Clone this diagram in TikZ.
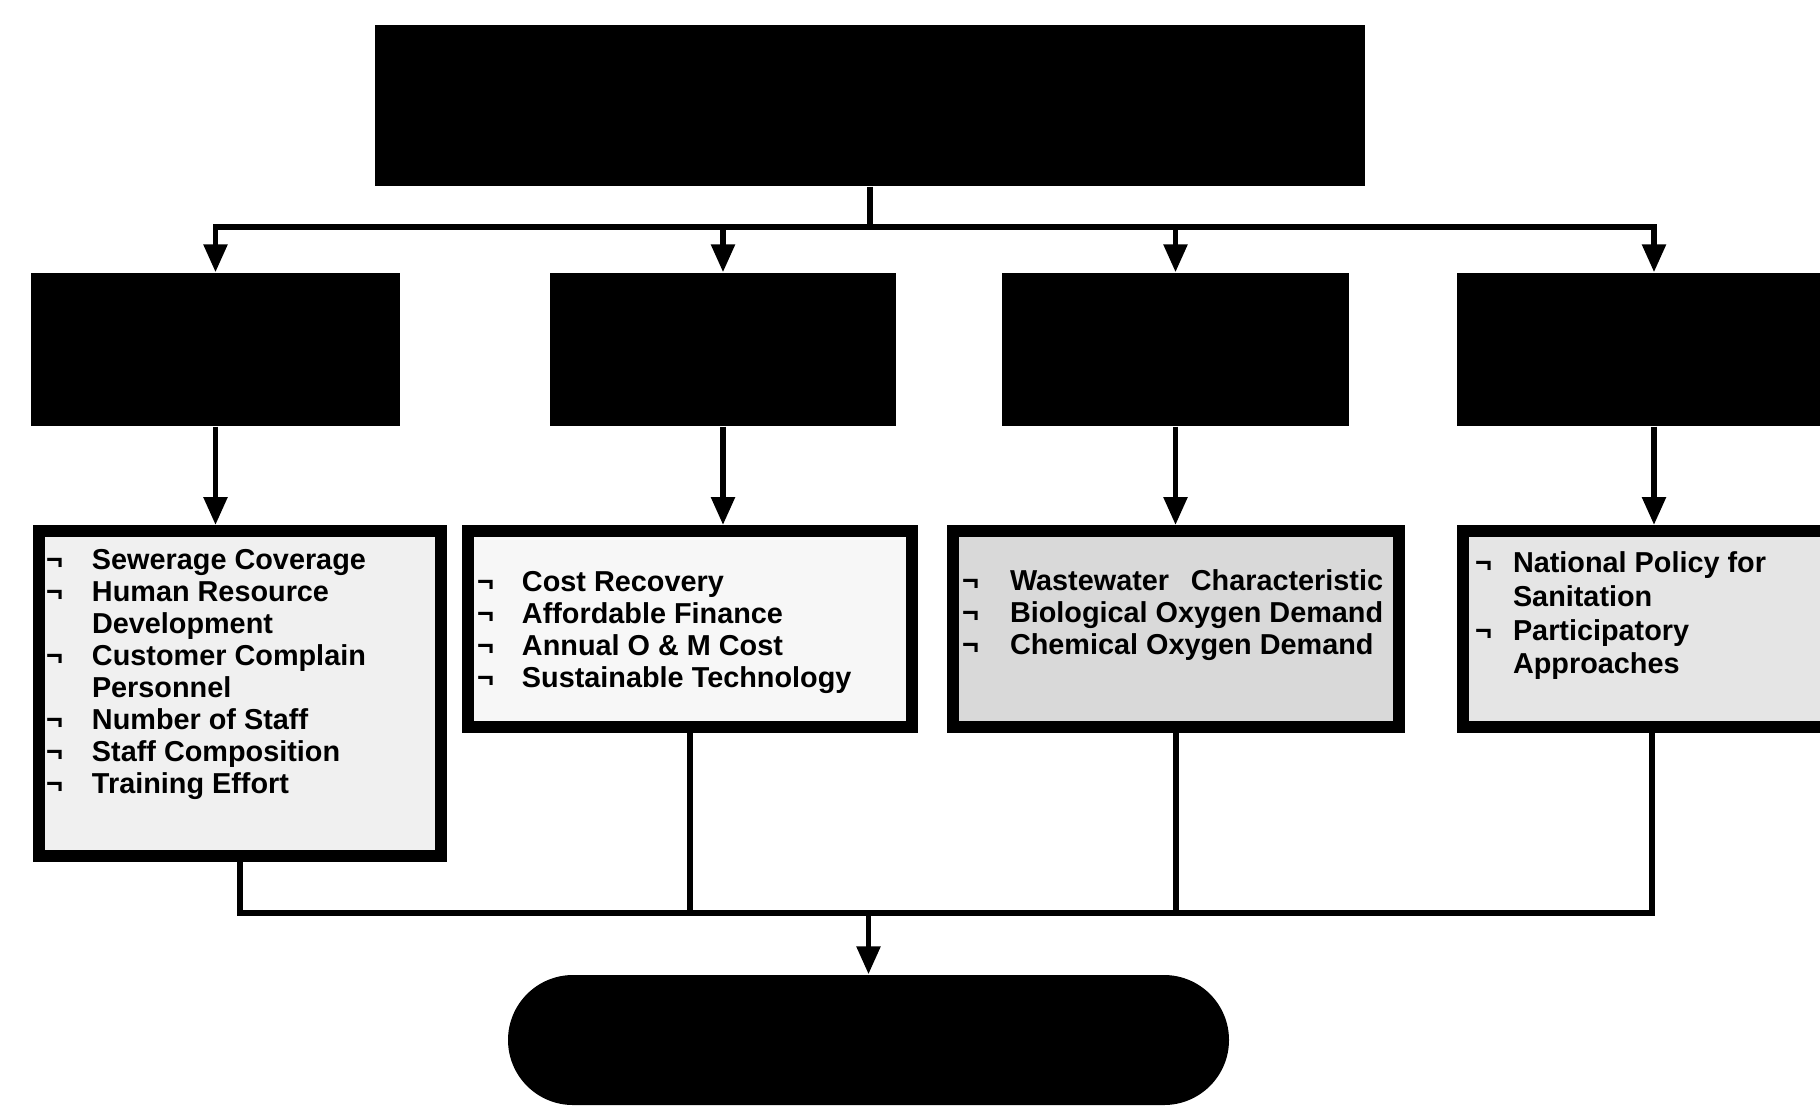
\documentclass[tikz,border=0pt]{standalone}
\usepackage{fontspec}
\setsansfont{Liberation Sans}
\usepackage{calc}
\usetikzlibrary{arrows.meta}

\newlength{\markwidth}
\newcommand{\negitem}{\makebox[\markwidth][l]{¬}}
\newcommand{\contitem}{\hspace*{\markwidth}}
% width, height, left pad, top pad, lines
\newcommand{\listpanel}[5]{\parbox[c][#2][t]{#1}{\vspace*{#4}\leftskip=#3\relax\strut#5}}

\begin{document}
\begin{tikzpicture}[
        x=0.1mm, y=-0.1mm,
        % black heading boxes
        darkbox/.style={
            rectangle,
            fill=black,
            draw=none,
            inner sep=0pt
        },
        % framed indicator lists
        listbox/.style={
            rectangle,
            draw=black,
            line width=1.2mm,
            inner sep=0pt,
            font=\sffamily\bfseries\fontsize{8.2}{9.1}\selectfont
        },
        link/.style={
            line width=1.6pt
        },
        arrow/.style={
            link,
            -{Triangle[length=2.8mm, width=2.3mm]}
        }
    ]
    \useasboundingbox (0,0) rectangle (1820,1107);

    % 1. goal box
    \node[darkbox, minimum width=99mm, minimum height=16.1mm] (goal) at (870,105.5) {};

    % 2. criteria boxes
    \node[darkbox, minimum width=36.9mm, minimum height=15.3mm] (crit1) at (215.5,349.5) {};
    \node[darkbox, minimum width=34.6mm, minimum height=15.3mm] (crit2) at (723,349.5) {};
    \node[darkbox, minimum width=34.7mm, minimum height=15.3mm] (crit3) at (1175.5,349.5) {};
    \node[darkbox, minimum width=39.4mm, minimum height=15.3mm] (crit4) at (1654,349.5) {};

    % 3. indicator lists
    \node[listbox, fill=gray!12, minimum width=40.2mm, minimum height=32.5mm] (ind1) at (240,693.5) {%
        \setlength{\markwidth}{4.6mm}%
        \listpanel{40.2mm}{32.5mm}{0.7mm}{1.6mm}{%
            \negitem Sewerage Coverage\\
            \negitem Human Resource\\
            \contitem Development\\
            \negitem \makebox[\widthof{Sewerage Coverage}][s]{Customer\hfill Complain}\\
            \contitem Personnel\\
            \negitem Number of Staff\\
            \negitem Staff Composition\\
            \negitem Training Effort}};
    \node[listbox, fill=gray!6, minimum width=44.4mm, minimum height=19.6mm] (ind2) at (690,629) {%
        \setlength{\markwidth}{4.5mm}%
        \listpanel{44.4mm}{19.6mm}{0.9mm}{3.8mm}{%
            \negitem Cost Recovery\\
            \negitem Affordable Finance\\
            \negitem Annual O \& M Cost\\
            \negitem Sustainable Technology}};
    \node[listbox, fill=gray!30, minimum width=44.6mm, minimum height=19.6mm] (ind3) at (1176,629) {%
        \setlength{\markwidth}{4.8mm}%
        \listpanel{44.6mm}{19.6mm}{0.9mm}{3.7mm}{%
            \negitem \makebox[\widthof{Biological Oxygen Demand}][s]{Wastewater\hfill Characteristic}\\
            \negitem Biological Oxygen Demand\\
            \negitem Chemical Oxygen Demand}};
    \node[listbox, fill=gray!20, minimum width=37.8mm, minimum height=19.6mm] (ind4) at (1652,629) {%
        \fontsize{8.2}{9.6}\selectfont
        \setlength{\markwidth}{3.8mm}%
        \listpanel{37.8mm}{19.6mm}{1.2mm}{1.8mm}{%
            \negitem National Policy for\\
            \contitem Sanitation\\
            \negitem Participatory\\
            \contitem Approaches}};

    % 4. outcome
    \node[darkbox, rounded corners=6.5mm, minimum width=72.1mm, minimum height=13mm] (outcome) at (868.5,1040) {};

    % 5. connectors
    \coordinate (topbus) at (870,227);
    \coordinate (lowbus) at (868.5,913);
    \draw[arrow] (goal.south) -- (topbus) -| (crit1.north);
    \draw[arrow] (topbus) -| (crit4.north);
    \draw[arrow] (topbus -| crit2) -- (crit2.north);
    \draw[arrow] (topbus -| crit3) -- (crit3.north);

    \foreach \i in {1,...,4}
        \draw[arrow] (crit\i.south) -- (crit\i.south |- ind\i.north);

    \draw[link] (ind1.south) |- (ind4.south |- lowbus) -- (ind4.south);
    \draw[link] (ind2.south) -- (ind2.south |- lowbus);
    \draw[link] (ind3.south) -- (ind3.south |- lowbus);
    \draw[arrow] (lowbus) -- (outcome.north);

\end{tikzpicture}
\end{document}
